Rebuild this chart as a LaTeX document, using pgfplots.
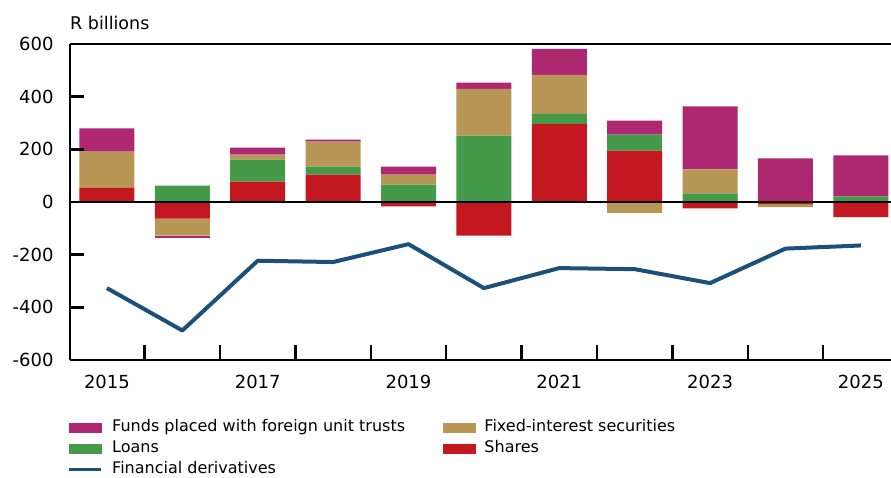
\documentclass[border=0pt]{standalone}
\usepackage{pgfplots}
\usepackage{pgfplotstable}
\pgfplotsset{compat=1.18}
\usepackage{fontspec}
\setmainfont{DejaVu Sans}

\definecolor{funds}{RGB}{174,39,113}
\definecolor{fixed}{RGB}{184,151,86}
\definecolor{loans}{RGB}{68,154,72}
\definecolor{shares}{RGB}{196,24,32}
\definecolor{deriv}{RGB}{28,80,122}

% positive parts of each flow, R billions
\pgfplotstableread{
x shares loans fixed funds
0  54   0 137  89
1   0  62   0   0
2  77  84  19  26
3 104  30  95   8
4   0  66  38  30
5   0 252 178  23
6 297  38 148  98
7 195  61   0  53
8   0  33  91 239
9   0   0   0 166
10  0  21   0 156
}\posdata
% negative parts
\pgfplotstableread{
x shares loans fixed funds
0    0 0   0   0
1  -63 0 -65 -10
2    0 0   0   0
3    0 0   0   0
4  -17 0   0   0
5 -128 0   0   0
6    0 0   0   0
7    0 0 -41   0
8  -24 0   0   0
9   -8 0 -11   0
10 -57 0   0   0
}\negdata
\pgfplotstableread{
x deriv
0  -327
1  -488
2  -223
3  -228
4  -160
5  -327
6  -251
7  -255
8  -308
9  -177
10 -165
}\derivdata

\pgfplotsset{
  base/.style={
    scale only axis, width=821pt, height=316pt,
    xmin=-0.49, xmax=10.40, ymin=-600, ymax=600,
  },
  barax/.style={base, hide axis, ybar stacked, bar width=55pt},
  swatch/.style={legend image code/.code={\fill[#1] (0pt,-4.5pt) rectangle (32pt,4.5pt);}},
}

\begin{document}
\begin{tikzpicture}
% bars above zero
\begin{axis}[barax]
\addplot[fill=shares, draw=none] table[x=x, y=shares] {\posdata};
\addplot[fill=loans, draw=none] table[x=x, y=loans] {\posdata};
\addplot[fill=fixed, draw=none] table[x=x, y=fixed] {\posdata};
\addplot[fill=funds, draw=none] table[x=x, y=funds] {\posdata};
\end{axis}
% bars below zero
\begin{axis}[barax]
\addplot[fill=shares, draw=none] table[x=x, y=shares] {\negdata};
\addplot[fill=loans, draw=none] table[x=x, y=loans] {\negdata};
\addplot[fill=fixed, draw=none] table[x=x, y=fixed] {\negdata};
\addplot[fill=funds, draw=none] table[x=x, y=funds] {\negdata};
\end{axis}
% frame, ticks, line and legend
\begin{axis}[base, name=ax,
  axis lines*=left,
  axis line style={line width=2.4pt, black},
  tick align=inside,
  tick style={black, line width=2.4pt},
  major tick length=14pt, minor tick length=15pt,
  xtick={0,2,...,10},
  xticklabels={2015,2017,2019,2021,2023,2025},
  major x tick style={draw=none},
  minor xtick={0.5,1.5,...,9.5},
  ytick={-600,-400,...,600},
  tick label style={font=\fontsize{18}{21}\selectfont},
  yticklabel style={xshift=-13pt},
  xticklabel style={yshift=-12pt},
  /pgf/number format/assume math mode=true,
  clip=false,
  legend columns=2,
  legend cell align=left,
  legend style={at={(-0.003,-0.185)}, anchor=north west, draw=none, fill=none,
    font=\fontsize{16}{19}\selectfont, inner sep=0pt, row sep=2.8pt,
    nodes={inner sep=1pt, text height=12pt, text depth=4pt},
    /tikz/every odd column/.append style={column sep=8pt},
    /tikz/every even column/.append style={column sep=37pt}},
]
\draw[line width=2.4pt] (rel axis cs:0,1) -- (rel axis cs:1,1);
\draw[line width=1.6pt] (rel axis cs:0,0.5) -- (rel axis cs:1,0.5);
\node[anchor=base west, inner sep=0pt, font=\fontsize{17.5}{20}\selectfont]
  at ([yshift=14pt]rel axis cs:0,1) {R billions};
\addplot[deriv, line width=4pt, line join=round, forget plot]
  table[x=x, y=deriv] {\derivdata};
\addlegendimage{swatch=funds}
\addlegendentry{Funds placed with foreign unit trusts}
\addlegendimage{swatch=fixed}
\addlegendentry{Fixed-interest securities}
\addlegendimage{swatch=loans}
\addlegendentry{Loans}
\addlegendimage{swatch=shares}
\addlegendentry{Shares}
\addlegendimage{legend image code/.code={\draw[deriv, line width=3.5pt] (0pt,0pt) -- (32pt,0pt);}}
\addlegendentry{Financial derivatives}
\end{axis}
\pgfresetboundingbox
\path[use as bounding box] (ax.south west) ++(-70pt,-117pt) rectangle ++(891pt,477pt);
\end{tikzpicture}
\end{document}
